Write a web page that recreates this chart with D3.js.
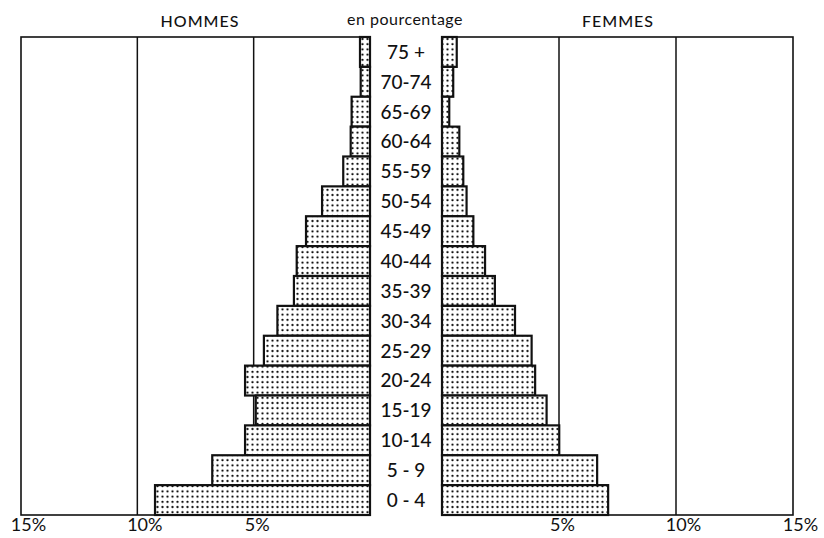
<!DOCTYPE html>
<html>
<head>
<meta charset="utf-8">
<script src="https://cdn.jsdelivr.net/npm/d3@7"></script>
<style>
  html, body { margin: 0; padding: 0; background: #fff; }
  svg { display: block; }
  text { font-family: Lato, "Noto Sans", sans-serif; fill: #111; }
</style>
</head>
<body>
<svg id="chart" width="824" height="538"></svg>
<script>
// Age groups, top to bottom
const ageGroups = ["75 +", "70-74", "65-69", "60-64", "55-59", "50-54", "45-49", "40-44",
                   "35-39", "30-34", "25-29", "20-24", "15-19", "10-14", "5 - 9", "0 - 4"];
// Hommes (%), same order
const hommes = [0.43, 0.40, 0.79, 0.83, 1.15, 2.06, 2.75, 3.15,
                3.27, 3.98, 4.56, 5.37, 4.91, 5.37, 6.78, 9.24];
// Femmes (%), same order
const femmes = [0.63, 0.48, 0.31, 0.74, 0.91, 1.05, 1.34, 1.84,
                2.26, 3.12, 3.83, 3.98, 4.47, 5.01, 6.63, 7.10];
// Tick values / labels
const leftTicks = [15, 10, 5];
const rightTicks = [5, 10, 15];
const tickLabel = d => d + "%";

(function () {
const svg = d3.select("#chart");
const ink = "#111";

const xL = d3.scaleLinear().domain([0, 15]).range([370, 21]);
const xR = d3.scaleLinear().domain([0, 15]).range([442, 793]);
const y = d3.scaleBand().domain(ageGroups).range([37, 515]).padding(0);

// dot pattern
const defs = svg.append("defs");
const pat = defs.append("pattern").attr("id", "dots")
  .attr("patternUnits", "userSpaceOnUse").attr("width", 5).attr("height", 5.2);
pat.append("rect").attr("width", 5).attr("height", 5.2).attr("fill", "#fff");
pat.append("circle").attr("cx", 2.5).attr("cy", 2.6).attr("r", 1.15).attr("fill", ink);

// frames
const y0 = y.range()[0], y1 = y.range()[1];
svg.append("rect").attr("x", xL(15)).attr("y", y0)
  .attr("width", xL(0) - xL(15)).attr("height", y1 - y0)
  .attr("fill", "none").attr("stroke", ink).attr("stroke-width", 1.6);
svg.append("rect").attr("x", xR(0)).attr("y", y0)
  .attr("width", xR(15) - xR(0)).attr("height", y1 - y0)
  .attr("fill", "none").attr("stroke", ink).attr("stroke-width", 1.6);

// grid lines
svg.append("g").selectAll("line").data([10, 5]).join("line")
  .attr("x1", d => xL(d)).attr("x2", d => xL(d)).attr("y1", y0).attr("y2", y1)
  .attr("stroke", ink).attr("stroke-width", 1.5);
svg.append("g").selectAll("line").data([5, 10]).join("line")
  .attr("x1", d => xR(d)).attr("x2", d => xR(d)).attr("y1", y0).attr("y2", y1)
  .attr("stroke", ink).attr("stroke-width", 1.5);

// bars
svg.append("g").selectAll("rect").data(ageGroups).join("rect")
  .attr("x", (d, i) => xL(hommes[i])).attr("y", d => y(d))
  .attr("width", (d, i) => xL(0) - xL(hommes[i])).attr("height", y.bandwidth())
  .attr("fill", "url(#dots)").attr("stroke", ink).attr("stroke-width", 2.2);
svg.append("g").selectAll("rect").data(ageGroups).join("rect")
  .attr("x", xR(0)).attr("y", d => y(d))
  .attr("width", (d, i) => xR(femmes[i]) - xR(0)).attr("height", y.bandwidth())
  .attr("fill", "url(#dots)").attr("stroke", ink).attr("stroke-width", 2.2);

// age labels
svg.append("g").selectAll("text").data(ageGroups).join("text")
  .attr("x", (xL(0) + xR(0)) / 2).attr("y", d => y(d) + y.bandwidth() / 2)
  .attr("dy", "0.36em").attr("text-anchor", "middle")
  .style("font-size", "19px").style("font-weight", 500).text(d => d);

// bottom axes
const axL = svg.append("g").attr("transform", `translate(0,${y1 + 3})`)
  .call(d3.axisBottom(xL).tickValues(leftTicks).tickFormat(tickLabel).tickSize(0));
const axR = svg.append("g").attr("transform", `translate(0,${y1 + 3})`)
  .call(d3.axisBottom(xR).tickValues(rightTicks).tickFormat(tickLabel).tickSize(0));
[axL, axR].forEach(ax => {
  ax.select(".domain").remove();
  ax.selectAll("text")
    .attr("y", 0).attr("dy", "0.72em")
    .attr("dx", d => d >= 10 ? 7 : 3)
    .style("font-size", "18px").style("font-family", "Lato, sans-serif").attr("fill", ink);
});

// headers
svg.append("text").attr("x", 200).attr("y", 27).attr("text-anchor", "middle")
  .style("font-size", "16px").style("letter-spacing", "1px").style("font-weight", 500).text("HOMMES");
svg.append("text").attr("x", 405).attr("y", 25).attr("text-anchor", "middle")
  .style("font-size", "16px").style("letter-spacing", "0.5px").text("en pourcentage");
svg.append("text").attr("x", 618).attr("y", 27).attr("text-anchor", "middle")
  .style("font-size", "16px").style("letter-spacing", "1px").style("font-weight", 500).text("FEMMES");
})();
</script>
</body>
</html>
